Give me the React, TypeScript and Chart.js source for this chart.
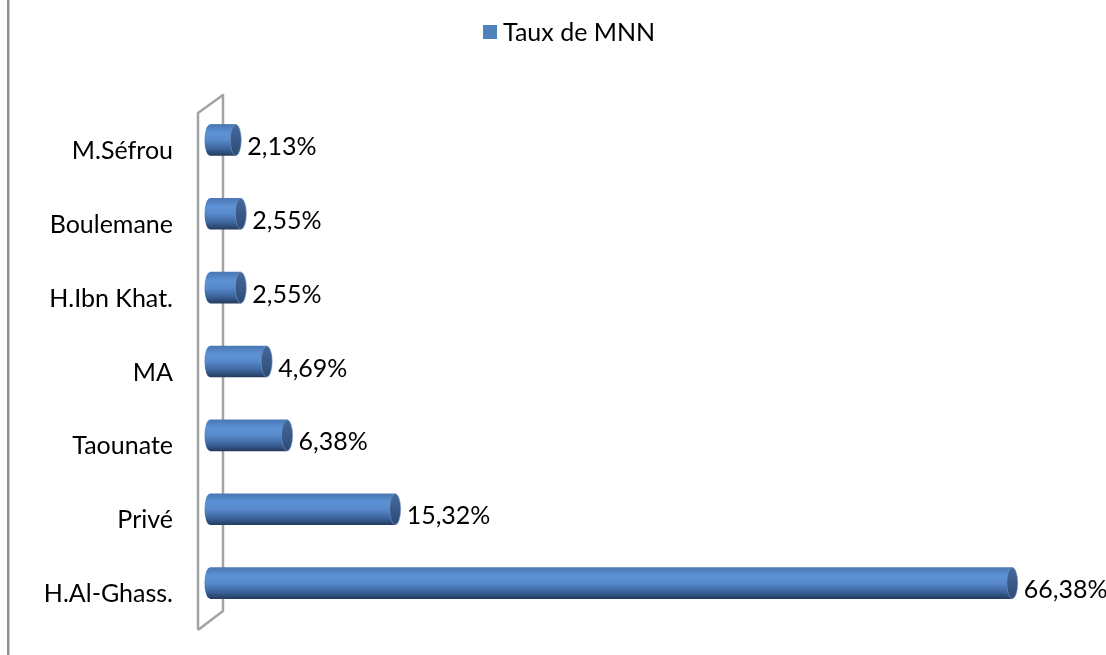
import React, { useEffect, useRef } from "react";
import { Chart, registerables } from "chart.js";

Chart.register(...registerables);

const categories = ["M.Séfrou", "Boulemane", "H.Ibn Khat.", "MA", "Taounate", "Privé", "H.Al-Ghass."];
const values = [2.13, 2.55, 2.55, 4.69, 6.38, 15.32, 66.38];
const seriesName = "Taux de MNN";
const axisMin = 0;
const axisMax = 70;

const FONT = "Lato, 'Open Sans', sans-serif";
const FS = 25;
const RX = 5.5;
const BAR_H = 31;

function bodyGradient(ctx: CanvasRenderingContext2D, top: number, bottom: number) {
  const g = ctx.createLinearGradient(0, top, 0, bottom);
  g.addColorStop(0, "#4a77b4");
  g.addColorStop(0.28, "#5c93d6");
  g.addColorStop(0.5, "#5889cb");
  g.addColorStop(0.78, "#3c659d");
  g.addColorStop(1, "#243c5f");
  return g;
}

const decorPlugin = {
  id: "decor",
  beforeDraw(chart: any) {
    const ctx = chart.ctx;
    ctx.save();
    ctx.fillStyle = "#ffffff";
    ctx.fillRect(0, 0, chart.width, chart.height);
    ctx.fillStyle = "#909090";
    ctx.fillRect(7, 0, 2.5, chart.height);
    // legend
    ctx.fillStyle = "#4F81BD";
    ctx.fillRect(483, 25, 14, 14);
    ctx.fillStyle = "#000";
    ctx.font = `${FS}px ${FONT}`;
    ctx.textAlign = "left";
    ctx.textBaseline = "middle";
    ctx.fillText(seriesName, 503, 33);
    ctx.restore();
  },
  beforeDatasetsDraw(chart: any) {
    const { ctx, chartArea } = chart;
    const zero = chart.scales.x.getPixelForValue(0);
    const fx = zero - 12;
    const bx = zero + 13;
    const ft = chartArea.top + 10;
    const bt = chartArea.top - 8;
    const fb = chartArea.bottom + 10;
    const bb = chartArea.bottom - 9;
    ctx.save();
    ctx.strokeStyle = "#a3a3a3";
    ctx.lineWidth = 2.5;
    ctx.lineJoin = "round";
    ctx.beginPath();
    ctx.moveTo(fx, fb);
    ctx.lineTo(fx, ft);
    ctx.lineTo(bx, bt);
    ctx.lineTo(bx, bb);
    ctx.lineTo(fx, fb);
    ctx.stroke();
    ctx.restore();
  },
  afterDatasetsDraw(chart: any) {
    const { ctx } = chart;
    const meta = chart.getDatasetMeta(0);
    ctx.save();
    meta.data.forEach((bar: any, i: number) => {
      const h = bar.height;
      const top = bar.y - h / 2;
      const bottom = bar.y + h / 2;
      // left cap
      ctx.beginPath();
      ctx.ellipse(bar.base, bar.y, RX, h / 2, 0, 0, Math.PI * 2);
      ctx.fillStyle = bodyGradient(ctx, top, bottom);
      ctx.fill();
      // right cap
      ctx.beginPath();
      ctx.ellipse(bar.x, bar.y, RX, h / 2, 0, 0, Math.PI * 2);
      const g = ctx.createLinearGradient(0, top, 0, bottom);
      g.addColorStop(0, "#46699c");
      g.addColorStop(1, "#2c4a74");
      ctx.fillStyle = g;
      ctx.fill();
      ctx.strokeStyle = "rgba(120,150,200,0.6)";
      ctx.lineWidth = 1;
      ctx.stroke();
      // value label
      ctx.fillStyle = "#000";
      ctx.font = `${FS}px ${FONT}`;
      ctx.textAlign = "left";
      ctx.textBaseline = "middle";
      const txt = values[i].toFixed(2).replace(".", ",") + "%";
      ctx.fillText(txt, bar.x + RX + 6, bar.y + 7);
    });
    ctx.restore();
  },
};

export default function App() {
  const ref = useRef<HTMLCanvasElement | null>(null);
  useEffect(() => {
    document.body.style.margin = "0";
    if (!ref.current) return;
    const chart = new Chart(ref.current, {
      type: "bar",
      data: {
        labels: categories,
        datasets: [
          {
            label: seriesName,
            data: values,
            backgroundColor: (c: any) => {
              const ch = c.chart;
              const ys = ch.scales && ch.scales.y;
              if (!ys || !ch.chartArea || c.dataIndex === undefined) return "#4F81BD";
              const cy = ys.getPixelForValue(c.dataIndex);
              if (!Number.isFinite(cy)) return "#4F81BD";
              return bodyGradient(ch.ctx, cy - BAR_H / 2, cy + BAR_H / 2);
            },
            borderWidth: 0,
            barThickness: BAR_H,
          },
        ],
      },
      options: {
        indexAxis: "y",
        responsive: false,
        animation: false,
        layout: { padding: { top: 103, bottom: 35, right: 50, left: 0 } },
        plugins: {
          legend: { display: false },
          tooltip: { enabled: false },
        },
        scales: {
          x: { display: false, min: axisMin, max: axisMax },
          y: {
            grid: { display: false },
            border: { display: false },
            ticks: {
              color: "#000",
              font: { family: FONT, size: FS },
              padding: 29,
              labelOffset: 11,
            },
            afterFit: (s: any) => {
              s.width = 210;
              s.paddingTop = 0;
              s.paddingBottom = 0;
            },
          },
        },
      },
      plugins: [decorPlugin],
    } as any);
    return () => chart.destroy();
  }, []);
  return <canvas ref={ref} width={1106} height={655} style={{ display: "block" }} />;
}
